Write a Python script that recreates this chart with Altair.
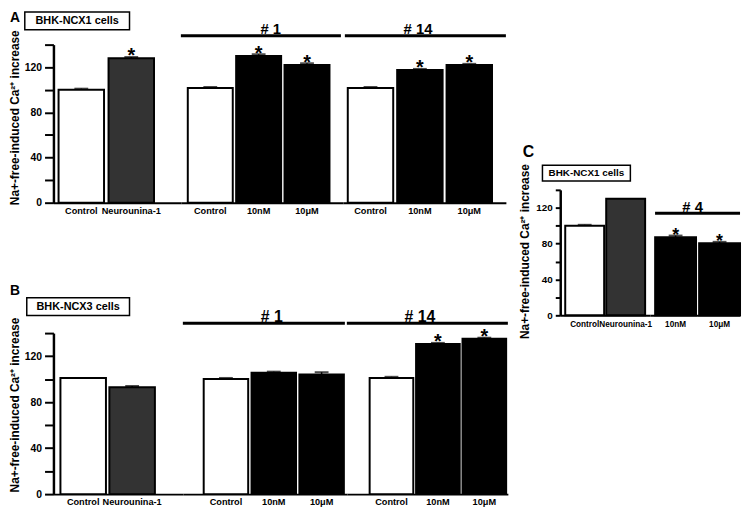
import altair as alt
import pandas as pd

FONT = "Liberation Sans"
Y_TITLE = "Na+-free-induced Ca²⁺ increase"

# ---------------- data ----------------
kind_domain = ["control", "neuro", "drug"]
kind_colors = ["#ffffff", "#333333", "#000000"]

# Panel A  (BHK-NCX1 cells)
a_labels = ["Control", "Neurounina-1", "Control", "10nM", "10μM", "Control", "10nM", "10μM"]
a_groups = ["base", "base", "# 1", "# 1", "# 1", "# 14", "# 14", "# 14"]
a_kinds = ["control", "neuro", "control", "drug", "drug", "control", "drug", "drug"]
a_values = [100, 128, 101.5, 130, 122, 101.5, 117.5, 122]
a_errors = [1, 1, 1, 1.5, 1.5, 1, 1, 1]
a_sig = [False, True, False, True, True, False, True, True]

# Panel B  (BHK-NCX3 cells)
b_labels = ["Control", "Neurounina-1", "Control", "10nM", "10μM", "Control", "10nM", "10μM"]
b_groups = ["base", "base", "# 1", "# 1", "# 1", "# 14", "# 14", "# 14"]
b_kinds = ["control", "neuro", "control", "drug", "drug", "control", "drug", "drug"]
b_values = [101, 93, 100, 105.5, 104, 101, 130.5, 135]
b_errors = [0, 1, 1, 1, 2, 1, 1, 1]
b_sig = [False, False, False, False, False, False, True, True]

# Panel C  (BHK-NCX1 cells)
c_labels = ["Control", "Neurounina-1", "10nM", "10μM"]
c_groups = ["base", "base", "# 4", "# 4"]
c_kinds = ["control", "neuro", "drug", "drug"]
c_values = [100, 130, 87, 80.5]
c_errors = [1, 0, 2, 1.5]
c_sig = [False, False, True, True]


def frame(labels, groups, kinds, values, errors, sig):
    df = pd.DataFrame({"label": labels, "group": groups, "kind": kinds,
                       "value": values, "err": errors, "sig": sig})
    df["hi"] = df["value"] + df["err"]
    return df


dfA = frame(a_labels, a_groups, a_kinds, a_values, a_errors, a_sig)
dfB = frame(b_labels, b_groups, b_kinds, b_values, b_errors, b_sig)
dfC = frame(c_labels, c_groups, c_kinds, c_values, c_errors, c_sig)


# ---------------- helpers ----------------
def one():
    return pd.DataFrame({"k": [0]})


def bracket(x0, x1, y, w=3):
    return alt.Chart(one()).mark_rule(color="black", strokeWidth=w).encode(
        x=alt.value(x0), x2=alt.value(x1), y=alt.value(y))


def label(text, x, y, size, align="center", baseline="alphabetic"):
    return alt.Chart(pd.DataFrame({"t": [text]})).mark_text(
        font=FONT, fontWeight="bold", fontSize=size, align=align,
        baseline=baseline, color="black").encode(
        text="t:N", x=alt.value(x), y=alt.value(y))


def box(x0, x1, y0, y1):
    return alt.Chart(one()).mark_rect(fill="white", stroke="black", strokeWidth=1.5).encode(
        x=alt.value(x0), x2=alt.value(x1), y=alt.value(y0), y2=alt.value(y1))


def group_chart(df, group, width, height, pi, po, al, yaxis=None,
                star_size=20, xlab=9.3, extras=()):
    sub = df[df["group"] == group].reset_index(drop=True)
    order = list(sub["label"])
    x = alt.X("label:N", sort=order,
              scale=alt.Scale(paddingInner=pi, paddingOuter=po, align=al),
              axis=alt.Axis(title=None, labelAngle=0, ticks=False, labelPadding=4,
                            labelFontSize=xlab, labelFontWeight="bold", labelFont=FONT,
                            labelColor="black", domainWidth=2, domainColor="black",
                            labelOverlap=False, labelLimit=0))

    def Y(f):
        return alt.Y(f + ":Q", scale=alt.Scale(domain=[0, 140], nice=False),
                     axis=yaxis)

    base = alt.Chart(sub)
    bars = base.mark_bar(stroke="black", strokeWidth=2).encode(
        x=x, y=Y("value"),
        color=alt.Color("kind:N", scale=alt.Scale(domain=kind_domain, range=kind_colors),
                        legend=None))
    err = base.transform_filter("datum.err > 0").mark_rule(
        color="black", strokeWidth=1.5).encode(x=x, y=Y("value"), y2="hi:Q")
    cap = base.transform_filter("datum.err > 0").mark_tick(
        color="black", thickness=2, size=14).encode(x=x, y=Y("hi"))
    stars = base.transform_filter("datum.sig").mark_text(
        text="*", font=FONT, fontSize=star_size, fontWeight="bold",
        baseline="alphabetic", dy=5.5, color="black").encode(x=x, y=Y("hi"))
    layers = list(extras) + [bars, err, cap, stars]
    return alt.layer(*layers).properties(width=width, height=height)


def y_axis(title_y, title_x, label_size=10.5, tick=9):
    return alt.Axis(values=list(range(0, 141, 20)),
                    labelExpr="datum.value % 40 === 0 ? datum.label : ''",
                    tickSize=tick, tickWidth=2, tickColor="black",
                    domainWidth=2.5, domainColor="black", grid=False,
                    labelFontSize=label_size, labelFontWeight="bold", labelFont=FONT,
                    labelColor="black", labelPadding=3,
                    title=Y_TITLE, titleFontSize=12, titleFontWeight="bold",
                    titleFont=FONT, titleColor="black",
                    titleX=title_x, titleY=title_y, titleBaseline="top",
                    titleAngle=270, titleAlign="center")


# ---------------- panel A ----------------
hA = 160
A0 = group_chart(dfA, "base", 129, hA, 0.09, 0.32, 0.16,
                 yaxis=y_axis(73.5, -44),
                 extras=[label("A", -44, -23, 14, align="left"),
                         box(-29, 77, -33, -15),
                         label("BHK-NCX1 cells", 24, -24, 11, baseline="middle")])
A1 = group_chart(dfA, "# 1", 164, hA, 0.07, 0.21, 0.34,
                 extras=[bracket(0, 162, -9), label("# 1", 91, -10.3, 15)])
A2 = group_chart(dfA, "# 14", 165, hA, 0.08, 0.19, 0.26,
                 extras=[bracket(2, 165, -9), label("# 14", 76, -10.3, 15)])
panelA = alt.hconcat(A0, A1, A2, spacing=0, bounds="flush").resolve_scale(x="independent")

# ---------------- panel B ----------------
hB = 163
B0 = group_chart(dfB, "base", 131, hB, 0.07, 0.357, 0.2,
                 yaxis=y_axis(72.3, -44),
                 extras=[label("B", -44, -38.7, 14, align="left"),
                         box(-27, 77, -35.7, -17.7),
                         label("BHK-NCX3 cells", 25, -26.7, 11, baseline="middle")])
B1 = group_chart(dfB, "# 1", 166, hB, 0.07, 0.249, 0.875,
                 extras=[bracket(0, 164, -10), label("# 1", 90, -11.7, 16)])
B2 = group_chart(dfB, "# 14", 163, hB, 0.06, 0.264, 0.93,
                 extras=[bracket(0, 163, -10), label("# 14", 74, -11.7, 16)])
panelB = alt.hconcat(B0, B1, B2, spacing=0, bounds="flush").resolve_scale(x="independent")

# ---------------- panel C ----------------
hC = 127
C0 = group_chart(dfC, "base", 91, hC, 0.05, 0.122, 0.5,
                 yaxis=y_axis(62, -41, label_size=10, tick=5), star_size=18, xlab=8.3,
                 extras=[label("C", -38, -33, 16, align="left"),
                         box(-18, 71, -25, -9),
                         label("BHK-NCX1 cells", 26.5, -17, 10, baseline="middle")])
C1 = group_chart(dfC, "# 4", 91, hC, 0.07, 0.057, 1.0, star_size=18, xlab=8.3,
                 extras=[bracket(5, 91, 23.7), label("# 4", 43, 22, 15)])
panelC = alt.hconcat(C0, C1, spacing=0, bounds="flush").resolve_scale(x="independent")

spacer = alt.Chart(one()).mark_point(opacity=0).encode(
    x=alt.value(0), y=alt.value(0)).properties(width=1, height=81)

left = alt.vconcat(panelA, panelB, spacing=68)
right = alt.vconcat(spacer, panelC, spacing=20)

chart = alt.hconcat(left, right, spacing=8).properties(padding=0).configure(
    font=FONT, view=alt.ViewConfig(stroke=None))

chart.save("out.html", embed_options={"renderer": "svg", "actions": False})
